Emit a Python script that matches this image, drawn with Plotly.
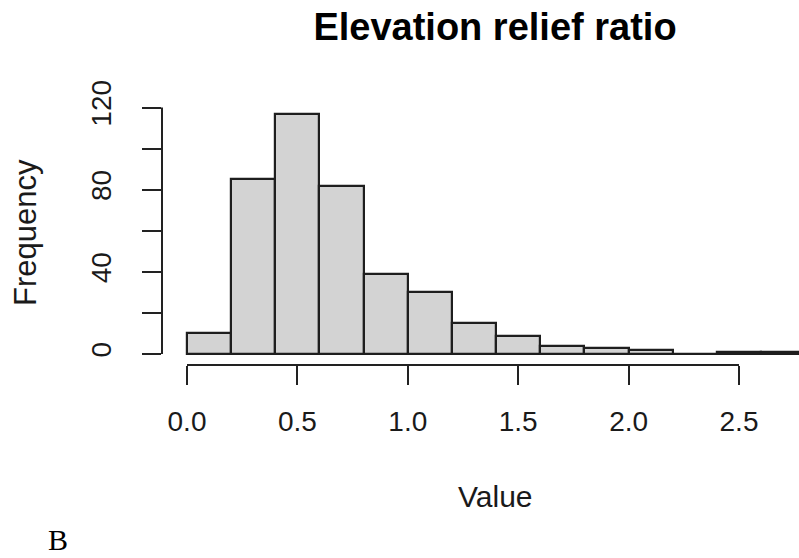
import plotly.graph_objects as go

# Data
bin_edges = [0.0, 0.2, 0.4, 0.6, 0.8, 1.0, 1.2, 1.4, 1.6, 1.8, 2.0, 2.2, 2.4, 2.6, 2.8]
counts = [10, 85, 117, 82, 39, 30, 15, 9, 4, 3, 2, 0, 1, 1]
x_tick_vals = [0.0, 0.5, 1.0, 1.5, 2.0, 2.5]
x_tick_text = ["0.0", "0.5", "1.0", "1.5", "2.0", "2.5"]
y_tick_vals = [0, 20, 40, 60, 80, 100, 120]
y_tick_text = ["0", "", "40", "", "80", "", "120"]

centers = [(a + b) / 2 for a, b in zip(bin_edges[:-1], bin_edges[1:])]
widths = [b - a for a, b in zip(bin_edges[:-1], bin_edges[1:])]

W, H = 799, 558
L, R, T, B = 162, 0, 104, 193
PW, PH = W - L - R, H - T - B

def px(xp):
    return (xp - L) / PW

def py(yp):
    return (H - B - yp) / PH

FONT = "Liberation Sans, Arial, sans-serif"
AX = "#222222"

fig = go.Figure()
fig.add_trace(go.Bar(
    x=centers, y=counts, width=widths,
    marker=dict(color="#D3D3D3", line=dict(color="#1e1e1e", width=2.2)),
    hoverinfo="skip",
))

fig.update_layout(
    width=W, height=H,
    margin=dict(l=L, r=R, t=T, b=B, pad=0),
    plot_bgcolor="white", paper_bgcolor="white",
    showlegend=False,
    bargap=0,
    title=dict(text="<b>Elevation relief ratio</b>", x=495 / W, xanchor="center",
               y=1 - 27 / H, yanchor="middle", xref="container", yref="container",
               font=dict(family=FONT, size=38, color="black")),
    font=dict(family=FONT, color="#1a1a1a"),
)

fig.update_xaxes(
    range=[-25 / 220.8, 612 / 220.8],
    showgrid=False, zeroline=False, showline=False,
    tickvals=x_tick_vals, ticktext=x_tick_text,
    ticks="outside", ticklen=19, tickwidth=2, tickcolor=AX,
    ticklabelstandoff=12,
    tickfont=dict(family=FONT, size=28, color="#1a1a1a"),
)
fig.update_yaxes(
    range=[-11 / 2.054, 120 + 3.5 / 2.054],
    showgrid=False, zeroline=False, showline=False,
    tickvals=y_tick_vals, ticktext=y_tick_text,
    ticks="outside", ticklen=19, tickwidth=2, tickcolor=AX,
    tickangle=-90, ticklabelstandoff=20,
    tickfont=dict(family=FONT, size=28, color="#1a1a1a"),
)

# R-style axis lines spanning first to last tick
fig.add_shape(type="line", xref="paper", yref="y", x0=0, x1=0,
              y0=y_tick_vals[0], y1=y_tick_vals[-1], line=dict(color=AX, width=2))
fig.add_shape(type="line", xref="x", yref="paper", x0=x_tick_vals[0], x1=x_tick_vals[-1],
              y0=0, y1=0, line=dict(color=AX, width=2))

fig.add_annotation(text="Value", xref="paper", yref="paper", x=px(495), y=py(496),
                   xanchor="center", yanchor="middle", showarrow=False,
                   font=dict(family=FONT, size=30, color="#1a1a1a"))
fig.add_annotation(text="Frequency", xref="paper", yref="paper", x=px(25), y=py(233),
                   xanchor="center", yanchor="middle", showarrow=False, textangle=-90,
                   font=dict(family=FONT, size=31, color="#1a1a1a"))
fig.add_annotation(text="B", xref="paper", yref="paper", x=px(57.5), y=py(557),
                   xanchor="center", yanchor="bottom", showarrow=False, borderpad=0,
                   font=dict(family="Liberation Serif, Times New Roman, serif", size=30, color="black"))

fig.write_html("out.html")
